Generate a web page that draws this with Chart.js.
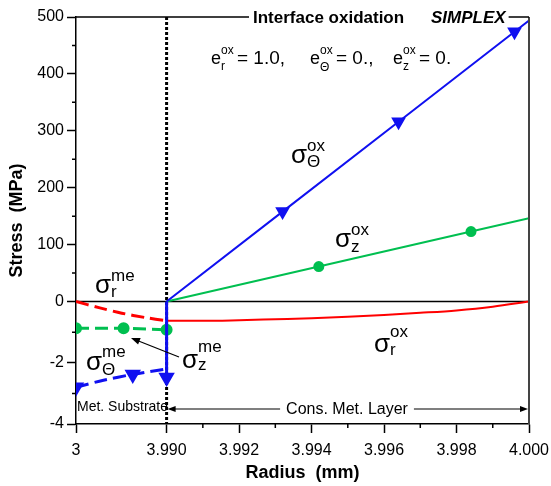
<!DOCTYPE html>
<html>
<head>
<meta charset="utf-8">
<script src="https://cdn.jsdelivr.net/npm/chart.js@4"></script>
<style>
  html, body { margin: 0; padding: 0; background: #fff; }
</style>
</head>
<body>
<canvas id="stressChart" width="551" height="486"></canvas>
<script>
// radius in mm, stress in MPa
// metal substrate (dashed)
const rMeR = [3, 3.25, 3.5, 3.75, 3.99];
const rMeS = [0, -0.2, -0.38, -0.52, -0.63];
const zMeR = [3, 3.52, 3.99];
const zMeS = [-0.87, -0.87, -0.92];
const tMeR = [3, 3.3, 3.62, 3.99];
const tMeS = [-2.8, -2.57, -2.38, -2.2];
const tJumpR = [3.99, 3.99];
const tJumpS = [0, -2.48];

// oxidized layer (solid)
const rOxR = [3.990, 3.991, 3.992, 3.993, 3.994, 3.995, 3.996, 3.997, 3.998, 3.999, 4.000];
const rOxS = [-0.63, -0.63, -0.61, -0.58, -0.55, -0.5, -0.44, -0.37, -0.29, -0.17, 0];
const tOxR = [3.99, 3.9932, 3.9964, 3.9996, 4.0];
const tOxS = [0, 158, 316, 474, 494];
const zOxR = [3.99, 3.9942, 3.9984, 4.0];
const zOxS = [0, 61.5, 123, 146.5];

// axis ticks
const xTickVals = [3, 3.99, 3.992, 3.994, 3.996, 3.998, 4.0];
const xTickLabels = ['3', '3.990', '3.992', '3.994', '3.996', '3.998', '4.000'];
const xMinor = [3.991, 3.993, 3.995, 3.997, 3.999];
const yTickVals = [-4, -2, 0, 100, 200, 300, 400, 500];
const yTickLabels = ['-4', '-2', '0', '100', '200', '300', '400', '500'];
const yMinor = [-3, -1, 50, 150, 250, 350, 450];

// broken axes: substrate part of x is squeezed, negative stresses use a finer scale
const X_BREAK = 3.99;
function xv(r) { return r >= X_BREAK ? (r - X_BREAK) * 1000 : (r - X_BREAK) / 0.99 * 2.5; }
function yv(s) { return s >= 0 ? s : s * 53.8; }
function pts(rs, ss) { return rs.map((r, i) => ({ x: xv(r), y: yv(ss[i]) })); }

const BLUE = '#1010f0';
const GREEN = '#00bf50';
const RED = '#ff0000';
const FONT = '"Liberation Sans", Arial, sans-serif';
Chart.defaults.font.family = FONT;

function scripted(ctx, x, y, base, sup, sub, bs, ss, supDy, subDy) {
  ctx.font = bs + 'px ' + FONT;
  ctx.fillText(base, x, y);
  const w = ctx.measureText(base).width;
  ctx.font = ss + 'px ' + FONT;
  ctx.fillText(sup, x + w, y - supDy);
  ctx.fillText(sub, x + w, y + subDy);
  return x + w + Math.max(ctx.measureText(sup).width, ctx.measureText(sub).width);
}

function arrowHead(ctx, x1, y1, x2, y2, len, wid) {
  const a = Math.atan2(y2 - y1, x2 - x1);
  ctx.beginPath();
  ctx.moveTo(x2, y2);
  ctx.lineTo(x2 - len * Math.cos(a) + wid * Math.sin(a), y2 - len * Math.sin(a) - wid * Math.cos(a));
  ctx.lineTo(x2 - len * Math.cos(a) - wid * Math.sin(a), y2 - len * Math.sin(a) + wid * Math.cos(a));
  ctx.closePath();
  ctx.fill();
}

const overlay = {
  id: 'overlay',
  beforeDatasetsDraw(chart) {
    const { ctx, chartArea: a, scales: { x, y } } = chart;
    ctx.save();
    ctx.strokeStyle = '#000';
    // zero line
    const y0 = y.getPixelForValue(0);
    ctx.lineWidth = 1.5;
    ctx.beginPath(); ctx.moveTo(a.left, y0); ctx.lineTo(a.right, y0); ctx.stroke();
    // interface
    const xi = x.getPixelForValue(xv(X_BREAK));
    ctx.lineWidth = 3;
    ctx.setLineDash([3, 2]);
    ctx.beginPath(); ctx.moveTo(xi, a.top); ctx.lineTo(xi, a.bottom); ctx.stroke();
    ctx.restore();
  },
  afterDraw(chart) {
    const { ctx, chartArea: a, scales: { x, y } } = chart;
    ctx.save();
    ctx.strokeStyle = '#000';
    ctx.fillStyle = '#000';
    ctx.lineWidth = 1.5;
    // minor ticks
    ctx.beginPath();
    xMinor.forEach(v => { const px = x.getPixelForValue(xv(v)); ctx.moveTo(px, a.bottom); ctx.lineTo(px, a.bottom + 4); });
    yMinor.forEach(v => { const py = y.getPixelForValue(yv(v)); ctx.moveTo(a.left - 4, py); ctx.lineTo(a.left, py); });
    ctx.stroke();

    // right border
    ctx.strokeStyle = '#444';
    ctx.lineWidth = 2;
    ctx.beginPath(); ctx.moveTo(a.right, a.top); ctx.lineTo(a.right, a.bottom); ctx.stroke();

    // title sitting on the top border
    ctx.textBaseline = 'alphabetic';
    ctx.font = 'bold 17px ' + FONT;
    ctx.fillText('Interface oxidation', 253, 23);
    ctx.font = 'italic bold 17px ' + FONT;
    ctx.fillText('SIMPLEX', 431, 23);
    const endS = 431 + ctx.measureText('SIMPLEX').width;
    ctx.strokeStyle = '#000';
    ctx.lineWidth = 1.5;
    ctx.beginPath();
    ctx.moveTo(a.left, a.top); ctx.lineTo(249, a.top);
    ctx.moveTo(endS + 3, a.top); ctx.lineTo(a.right, a.top);
    ctx.stroke();

    // eigenstrain line
    scripted(ctx, 211, 64, 'e', 'ox', 'r', 18, 12, 10, 6);
    ctx.font = '19px ' + FONT;
    ctx.fillText('= 1.0,', 237, 64);
    scripted(ctx, 310, 64, 'e', 'ox', '\u0398', 18, 12, 10, 7);
    ctx.font = '19px ' + FONT;
    ctx.fillText('= 0.,', 336, 64);
    scripted(ctx, 393, 64, 'e', 'ox', 'z', 18, 12, 10, 6);
    ctx.font = '19px ' + FONT;
    ctx.fillText('= 0.', 419, 64);

    // stress labels
    scripted(ctx, 291, 163, '\u03c3', 'ox', '\u0398', 26, 17, 12, 4);
    scripted(ctx, 335, 247, '\u03c3', 'ox', 'z', 26, 17, 12, 5);
    scripted(ctx, 95, 293, '\u03c3', 'me', 'r', 26, 17, 12, 4);
    scripted(ctx, 86, 370, '\u03c3', 'me', '\u0398', 26, 17, 13, 5);
    scripted(ctx, 182, 368, '\u03c3', 'me', 'z', 26, 17, 16, 2);
    scripted(ctx, 374, 352, '\u03c3', 'ox', 'r', 26, 17, 15, 3);

    // pointer from sigma_z^me to its curve
    ctx.lineWidth = 1.2;
    ctx.beginPath(); ctx.moveTo(179, 357); ctx.lineTo(136, 340); ctx.stroke();
    arrowHead(ctx, 179, 357, 131, 338, 9, 3.5);

    // region labels
    const xi = x.getPixelForValue(xv(X_BREAK));
    const ya = 409;
    ctx.font = '14px ' + FONT;
    ctx.textBaseline = 'middle';
    ctx.fillText('Met. Substrate', a.left + 1, 407);
    ctx.lineWidth = 1.2;
    ctx.beginPath(); ctx.moveTo(xi + 6, ya); ctx.lineTo(a.right - 6, ya); ctx.stroke();
    arrowHead(ctx, xi + 10, ya, xi + 1, ya, 8, 3);
    arrowHead(ctx, a.right - 10, ya, a.right - 1, ya, 8, 3);
    ctx.font = '16px ' + FONT;
    const lbl = 'Cons. Met. Layer';
    const lw = ctx.measureText(lbl).width;
    const lx = 347 - lw / 2;
    ctx.fillStyle = '#fff';
    ctx.fillRect(lx - 6, ya - 8, lw + 12, 16);
    ctx.fillStyle = '#000';
    ctx.fillText(lbl, lx, 410);
    ctx.restore();
  }
};

new Chart(document.getElementById('stressChart'), {
  type: 'scatter',
  data: {
    datasets: [
      { data: pts(tJumpR, tJumpS), showLine: true, borderColor: BLUE, backgroundColor: BLUE, borderWidth: 3,
        pointStyle: 'triangle', rotation: 180, pointRadius: [0, 6.5], order: 1 },
      { data: pts(tOxR, tOxS), showLine: true, borderColor: BLUE, backgroundColor: BLUE, borderWidth: 2,
        pointStyle: 'triangle', rotation: 180, pointRadius: [0, 6.5, 6.5, 6.5, 0], order: 2 },
      { data: pts(zOxR, zOxS), showLine: true, borderColor: GREEN, backgroundColor: GREEN, borderWidth: 2,
        pointStyle: 'circle', pointRadius: [0, 4.5, 4.5, 0], order: 3 },
      { data: pts(rOxR, rOxS), showLine: true, borderColor: RED, borderWidth: 2,
        pointRadius: 0, tension: 0.4, cubicInterpolationMode: 'monotone', order: 4 },
      { data: pts(rMeR, rMeS), showLine: true, borderColor: RED, borderWidth: 3, borderDash: [13, 6],
        pointRadius: 0, tension: 0.3, order: 5 },
      { data: pts(zMeR, zMeS), showLine: true, borderColor: GREEN, backgroundColor: GREEN, borderWidth: 3,
        borderDash: [13, 6], pointStyle: 'circle', pointRadius: 4.5, order: 6 },
      { data: pts(tMeR, tMeS), showLine: true, borderColor: BLUE, backgroundColor: BLUE, borderWidth: 3,
        borderDash: [13, 6], pointStyle: 'triangle', rotation: 180, pointRadius: [6.5, 0, 6.5, 0], tension: 0.3, order: 7 }
    ]
  },
  options: {
    responsive: false,
    animation: false,
    layout: { padding: { top: 17, right: 22, left: 0, bottom: 0 } },
    plugins: { legend: { display: false }, tooltip: { enabled: false } },
    scales: {
      x: {
        type: 'linear',
        min: xv(3),
        max: xv(4.0),
        afterBuildTicks: s => { s.ticks = xTickVals.map(v => ({ value: xv(v) })); },
        afterFit: s => { s.height = 62; s.paddingRight = 0; s.paddingLeft = 0; },
        ticks: { autoSkip: false, maxRotation: 0, padding: 8, color: '#000', font: { size: 16 },
          callback: (v, i) => xTickLabels[i] },
        grid: { drawOnChartArea: false, tickLength: 9, tickColor: '#000', tickWidth: 1.5 },
        border: { color: '#000', width: 1.5 },
        title: { display: true, text: 'Radius  (mm)', color: '#000', font: { size: 18, weight: 'bold' },
          padding: { top: 0, bottom: 2 } }
      },
      y: {
        type: 'linear',
        min: yv(-4),
        max: 500,
        afterBuildTicks: s => { s.ticks = yTickVals.map(v => ({ value: yv(v) })); },
        afterFit: s => { s.width = 76; s.paddingTop = 0; s.paddingBottom = 0; },
        ticks: { autoSkip: false, padding: 3, color: '#000', font: { size: 16 },
          callback: (v, i) => yTickLabels[i] },
        grid: { drawOnChartArea: false, tickLength: 9, tickColor: '#000', tickWidth: 1.5 },
        border: { color: '#000', width: 1.5 },
        title: { display: true, text: 'Stress  (MPa)', color: '#000', font: { size: 18, weight: 'bold' },
          padding: { top: 6, bottom: 0 } }
      }
    }
  },
  plugins: [overlay]
});
</script>
</body>
</html>
